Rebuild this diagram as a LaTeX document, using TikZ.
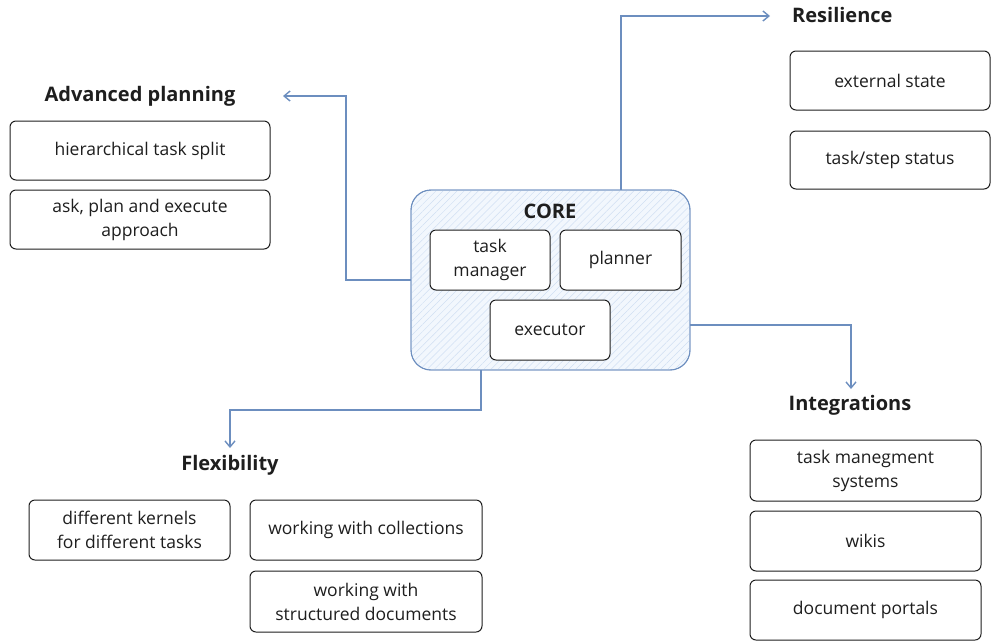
\documentclass[tikz,border=0pt]{standalone}
\usepackage{fontspec}
\setmainfont{Open Sans}
\usetikzlibrary{arrows.meta,patterns.meta}
\definecolor{ink}{HTML}{1E1E1E}
\definecolor{conncol}{HTML}{6C8EBF}
\definecolor{corefill}{HTML}{F2F7FD}
\definecolor{hatch}{HTML}{D0DFF3}
\tikzset{
  box/.style={draw=ink, line width=1pt, rounded corners=6pt, fill=white,
    inner sep=0pt, outer sep=0pt, align=center, text=ink,
    font=\fontsize{17.5}{24}\selectfont},
  title/.style={text=ink, font=\fontsize{20}{24}\selectfont\bfseries, inner sep=0pt},
  conn/.style={draw=conncol, line width=1.4pt, -{Straight Barb[length=6pt,width=10pt,line width=1.4pt]}},
}
\begin{document}
\begin{tikzpicture}[x=1pt,y=-1pt]
\useasboundingbox (0,0) rectangle (991,641);
% CORE
\node[draw=conncol, line width=0.9pt, rounded corners=20pt, fill=corefill,
  minimum width=279pt, minimum height=180pt, inner sep=0pt, outer sep=0pt] (core) at (550.5,280) {};
\fill[pattern={Lines[angle=45,distance=5pt,line width=0.5pt]}, pattern color=hatch, rounded corners=20pt]
  (412,191) rectangle (689,369);
\draw[conncol, line width=0.9pt, rounded corners=20pt] (411,190) rectangle (690,370);
\node[title] (coret) at (550,211) {CORE};
\node[box, minimum width=120pt, minimum height=60pt] (tm) at (490,260) {task\\manager};
\node[box, minimum width=121pt, minimum height=60pt] (pl) at (620.5,260) {planner};
\node[box, minimum width=120pt, minimum height=60pt] (ex) at (550,330) {executor};
% Advanced planning
\node[title] (adv) at (140,96) {Advanced planning};
\node[box, minimum width=260pt, minimum height=59pt] (hts) at (140,150.5) {hierarchical task split};
\node[box, minimum width=260pt, minimum height=59pt] (ape) at (140,219.5) {ask, plan and execute\\approach};
% Resilience
\node[title, anchor=west] (res) at (792,15) {Resilience};
\node[box, minimum width=200pt, minimum height=59pt] (ext) at (890,80.5) {external state};
\node[box, minimum width=200pt, minimum height=58pt] (tss) at (890,160) {task/step status};
% Integrations
\node[title] (integ) at (850,405) {Integrations};
\node[box, minimum width=231pt, minimum height=61pt] (tms) at (865.5,470.5) {task manegment\\systems};
\node[box, minimum width=231pt, minimum height=60pt] (wik) at (865.5,541) {wikis};
\node[box, minimum width=231pt, minimum height=60pt] (dp) at (865.5,610) {document portals};
% Flexibility
\node[title] (flex) at (230,465) {Flexibility};
\node[box, minimum width=201pt, minimum height=60pt] (dk) at (129.5,530) {different kernels\\for different tasks};
\node[box, minimum width=232pt, minimum height=60pt] (wc) at (366,530) {working with collections};
\node[box, minimum width=232pt, minimum height=61pt] (ws) at (366,601.5) {working with\\structured documents};
% connector ends
\coordinate (tarr) at (770,16);
\coordinate (larr) at (283,96);
\coordinate (barr) at (230,448);
\coordinate (rarr) at (851,389);
% connectors
\draw[conn] ([xshift=70.5pt]core.north) |- (tarr);
\draw[conn] (core.west) -- ++(-65,0) |- (larr);
\draw[conn] ([xshift=-69.5pt]core.south) -- ++(0,40) -| (barr);
\draw[conn] ([yshift=-45pt]core.east) -| (rarr);
\end{tikzpicture}
\end{document}
